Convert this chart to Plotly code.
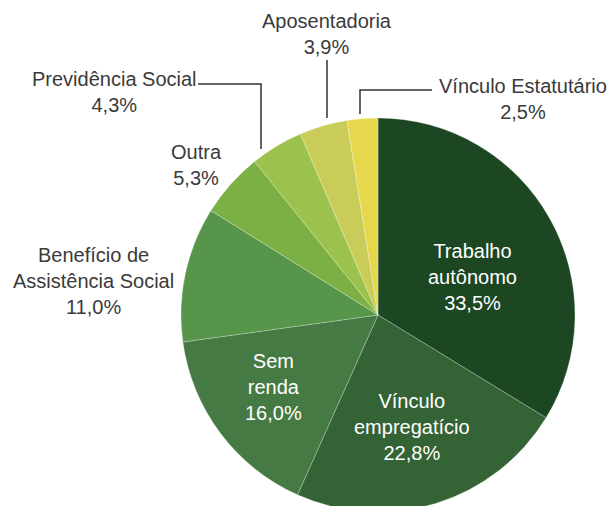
import plotly.graph_objects as go

# ---- data ----
labels = ["Trabalho autônomo", "Vínculo empregatício", "Sem renda",
          "Benefício de Assistência Social", "Outra", "Previdência Social",
          "Aposentadoria", "Vínculo Estatutário"]
values = [33.5, 22.8, 16.0, 11.0, 5.3, 4.3, 3.9, 2.5]
display_labels = ["Trabalho<br>autônomo", "Vínculo<br>empregatício", "Sem<br>renda",
                  "Benefício de<br>Assistência Social", "Outra", "Previdência Social",
                  "Aposentadoria", "Vínculo Estatutário"]
colors = ["#1c4722", "#346335", "#467a44", "#57964a",
          "#7cb044", "#9bc24c", "#c9cc58", "#e6d84c"]
inside = [True, True, True, False, False, False, False, False]

# ---- layout geometry (pixels) ----
W, H = 613, 520
cx, cy, r = 378, 315, 197
label_pos = [(472, 277), (412, 427), (273, 387), (93, 281),
             (196, 165), (114, 92), (327, 34), (523, 99)]

def px(x):
    return x / W

def py(y):
    return (H - y) / H

fig = go.Figure(go.Pie(
    labels=labels, values=values, sort=False, direction="clockwise",
    marker=dict(colors=colors, line=dict(color="rgba(255,255,255,0.35)", width=0.7)),
    textinfo="none", hoverinfo="label+percent", showlegend=False,
    domain=dict(x=[px(cx - r), px(cx + r)], y=[py(cy + r), py(cy - r)]),
))

for lab, v, (x, y), ins in zip(display_labels, values, label_pos, inside):
    txt = f"{lab}<br>{v:.1f}%".replace(".", ",")
    fig.add_annotation(x=px(x), y=py(y), xref="paper", yref="paper",
                       text=txt, showarrow=False, xanchor="center", yanchor="middle",
                       font=dict(color="#ffffff" if ins else "#3a3a3a", size=20,
                                 family="Liberation Sans, Arial, sans-serif"))

# leader lines
line_style = dict(color="#333333", width=1.5)
leaders = [
    [(198, 84), (261, 84), (261, 149)],   # Previdência Social
    [(327, 60), (327, 118)],              # Aposentadoria
    [(432, 90), (360, 90), (360, 114)],   # Vínculo Estatutário
]
for pts in leaders:
    path = "M " + " L ".join(f"{px(a)},{py(b)}" for a, b in pts)
    fig.add_shape(type="path", path=path, xref="paper", yref="paper",
                  line=line_style)

fig.update_layout(width=W, height=H, margin=dict(l=0, r=0, t=0, b=0),
                  paper_bgcolor="white", plot_bgcolor="white")

fig.write_html("out.html", config={"displayModeBar": False},
               post_script="document.body.style.margin='0';document.body.style.overflow='hidden';document.documentElement.style.overflow='hidden';")
